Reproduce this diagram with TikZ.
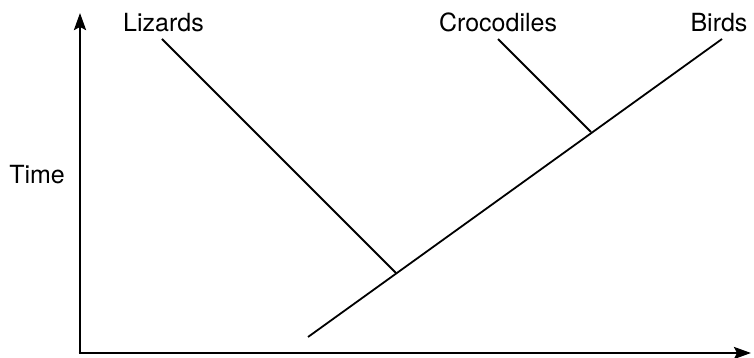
\documentclass[tikz,border=0pt]{standalone}
\usepackage{fontspec}
\setmainfont{TeX Gyre Heros}
\usetikzlibrary{arrows.meta}
\begin{document}
\begin{tikzpicture}[x=1pt,y=1pt,
  axis/.style={line width=2.6pt,-{Stealth[length=17pt,width=12pt,inset=3pt]}},
  branch/.style={line width=1.8pt},
  lbl/.style={font=\fontsize{25}{30}\selectfont, inner sep=0pt, anchor=base}]
\useasboundingbox (0,0) rectangle (754,358);
% axes
\coordinate (origin) at (80,5);
\coordinate (ytop) at (80,345);
\coordinate (xend) at (751,5);
\draw[axis] (origin) -- (ytop);
\draw[axis] ([xshift=-1.3pt]origin) -- (xend);
% labels
\node[lbl] (lizards) at (163.5,326) {Lizards};
\node[lbl] (crocs) at (498,326) {Crocodiles};
\node[lbl] (birds) at (719,326) {Birds};
\node[lbl, anchor=base east] (time) at (65,174) {Time};
% tree
\coordinate (root) at (308,21);
\coordinate (birdtip) at (722,319);
\coordinate (liztip) at (162,319);
\coordinate (lizjoin) at (396,85);
\coordinate (croctip) at (498,319);
\coordinate (crocjoin) at (591,226);
\draw[branch] (root) -- (birdtip);
\draw[branch] (liztip) -- (lizjoin);
\draw[branch] (croctip) -- (crocjoin);
\end{tikzpicture}
\end{document}
